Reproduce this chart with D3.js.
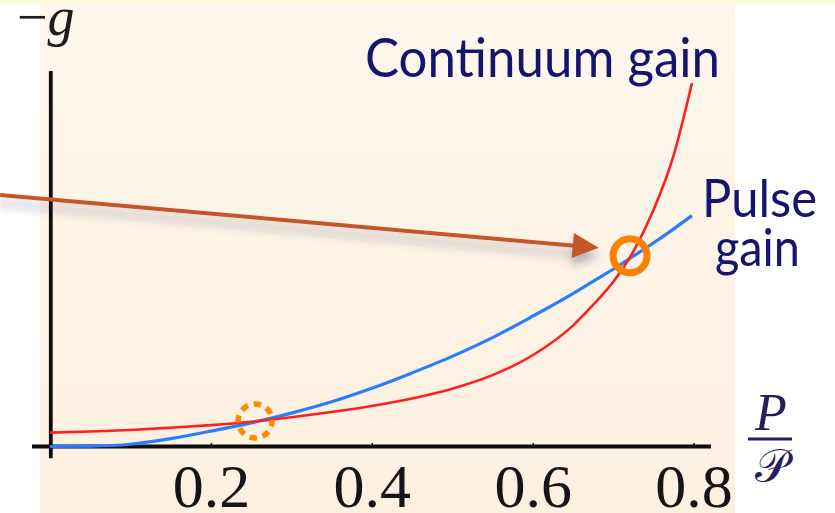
<!DOCTYPE html>
<html>
<head>
<meta charset="utf-8">
<script src="https://cdn.jsdelivr.net/npm/d3@7"></script>
<style>
  html, body { margin: 0; padding: 0; background: #ffffff; }
  svg { display: block; }
</style>
</head>
<body>
<svg id="chart" width="835" height="513"></svg>
<script>
// ---- data ----
const xValues = [0, 0.05, 0.1, 0.15, 0.2, 0.25, 0.3, 0.35, 0.4, 0.45, 0.5, 0.55, 0.6, 0.65, 0.675, 0.7, 0.725, 0.75, 0.775, 0.798];
const continuumGain = [0.037, 0.040, 0.044, 0.050, 0.057, 0.066, 0.078, 0.092, 0.108, 0.128, 0.154, 0.190, 0.243, 0.322, 0.377, 0.438, 0.519, 0.629, 0.774, 0.968];
const pulseGain = [0.000, 0.001, 0.006, 0.021, 0.041, 0.063, 0.089, 0.119, 0.155, 0.196, 0.240, 0.290, 0.347, 0.407, 0.440, 0.472, 0.507, 0.542, 0.579, 0.615];
const tickLabels = [0.2, 0.4, 0.6, 0.8];
// annotations in data units
const stableCrossing = [0.721, 0.508];
const unstableCrossing = [0.255, 0.068];
const arrowFrom = [-0.062, 0.670];
const arrowTo = [0.682, 0.529];

const svg = d3.select("#chart");
const W = 835, H = 513;

const x = d3.scaleLinear().domain([0, 0.8]).range([50, 693.6]);
const y = d3.scaleLinear().domain([0, 1]).range([446.5, 71]);

// ---- backgrounds ----
const defs = svg.append("defs");
const grad = defs.append("linearGradient").attr("id", "panelGrad")
  .attr("x1", 0).attr("y1", 0).attr("x2", 0).attr("y2", 1);
grad.append("stop").attr("offset", "0%").attr("stop-color", "#fdf7ee");
grad.append("stop").attr("offset", "100%").attr("stop-color", "#fdf0df");

const shadow = defs.append("filter").attr("id", "arrowShadow")
  .attr("x", "-10%").attr("y", "-200%").attr("width", "120%").attr("height", "500%");
shadow.append("feDropShadow").attr("dx", 0).attr("dy", 8).attr("stdDeviation", 5)
  .attr("flood-color", "#2a2a5a").attr("flood-opacity", 0.35);

svg.append("rect").attr("x", 0).attr("y", 0).attr("width", W).attr("height", H).attr("fill", "#ffffff");
svg.append("rect").attr("x", 0).attr("y", 0).attr("width", W).attr("height", 3.5).attr("fill", "#fefcdc");
svg.append("rect").attr("x", 40).attr("y", 3.5).attr("width", 695).attr("height", H - 3.5).attr("fill", "url(#panelGrad)");

// ---- axes ----
const xAxis = d3.axisBottom(x).tickValues(tickLabels).tickSizeInner(-3.5).tickSizeOuter(0)
  .tickFormat(d3.format(".1f"));
const gx = svg.append("g").attr("transform", `translate(0,${y(0)})`).call(xAxis);
gx.select(".domain").remove();
gx.selectAll(".tick line").attr("stroke", "#111").attr("stroke-width", 1.5);
gx.selectAll(".tick text")
  .attr("y", 60).attr("dy", 0)
  .attr("fill", "#151515")
  .style("font-family", "'Liberation Serif', 'DejaVu Serif', serif")
  .style("font-size", "62px");

// x axis line (extends a bit beyond the data range)
svg.append("line")
  .attr("x1", x(-0.0224)).attr("x2", x(0.8215))
  .attr("y1", y(0)).attr("y2", y(0))
  .attr("stroke", "#0d0d0d").attr("stroke-width", 4);
// y axis line
svg.append("line")
  .attr("x1", x(0.001)).attr("x2", x(0.001))
  .attr("y1", y(1)).attr("y2", y(-0.031))
  .attr("stroke", "#0d0d0d").attr("stroke-width", 3.8);

// ---- curves ----
const line = d3.line().x(d => x(d[0])).y(d => y(d[1])).curve(d3.curveMonotoneX);

svg.append("path")
  .datum(xValues.map((v, i) => [v, pulseGain[i]]))
  .attr("d", line).attr("fill", "none")
  .attr("stroke", "#2b7dff").attr("stroke-width", 3.2);

svg.append("path")
  .datum(xValues.map((v, i) => [v, continuumGain[i]]))
  .attr("d", line).attr("fill", "none")
  .attr("stroke", "#ff1f1f").attr("stroke-width", 2.6);

// ---- annotations ----
// arrow
const ax0 = x(arrowFrom[0]), ay0 = y(arrowFrom[1]);
const ax1 = x(arrowTo[0]), ay1 = y(arrowTo[1]);
const ang = Math.atan2(ay1 - ay0, ax1 - ax0);
const headLen = 26, headHalf = 12.5;
const bx = ax1 - headLen * Math.cos(ang), by = ay1 - headLen * Math.sin(ang);
const arrowG = svg.append("g").attr("filter", "url(#arrowShadow)");
arrowG.append("line")
  .attr("x1", ax0).attr("y1", ay0).attr("x2", bx + 2 * Math.cos(ang)).attr("y2", by + 2 * Math.sin(ang))
  .attr("stroke", "#c4572c").attr("stroke-width", 4);
arrowG.append("path")
  .attr("d", `M${ax1},${ay1} L${bx - headHalf * Math.sin(-ang) * -1 + 0},${by - headHalf * Math.cos(ang)} L${bx + 0},${by} Z`)
  .attr("fill", "none");
arrowG.append("polygon")
  .attr("points", [
    [ax1, ay1],
    [bx + headHalf * Math.sin(ang), by - headHalf * Math.cos(ang)],
    [bx - headHalf * Math.sin(ang), by + headHalf * Math.cos(ang)]
  ].map(p => p.join(",")).join(" "))
  .attr("fill", "#c4572c");

// circles
svg.append("circle")
  .attr("cx", x(unstableCrossing[0])).attr("cy", y(unstableCrossing[1])).attr("r", 17)
  .attr("fill", "none").attr("stroke", "#ff8a00").attr("stroke-width", 5.5)
  .attr("stroke-dasharray", "7.5 5.85").attr("stroke-dashoffset", 2);
svg.append("circle")
  .attr("cx", x(stableCrossing[0])).attr("cy", y(stableCrossing[1])).attr("r", 17)
  .attr("fill", "none").attr("stroke", "#ff8000").attr("stroke-width", 7);

// ---- text labels ----
const sansFont = "Lato, 'Open Sans', sans-serif";
svg.append("text").attr("x", 365).attr("y", 77)
  .attr("textLength", 355).attr("lengthAdjust", "spacingAndGlyphs")
  .style("font-family", sansFont).style("font-size", "54px").attr("fill", "#15146e")
  .text("Continuum gain");
svg.append("text").attr("x", 702).attr("y", 217)
  .attr("textLength", 115).attr("lengthAdjust", "spacingAndGlyphs")
  .style("font-family", sansFont).style("font-size", "52px").attr("fill", "#15146e")
  .text("Pulse");
svg.append("text").attr("x", 715).attr("y", 266)
  .attr("textLength", 85).attr("lengthAdjust", "spacingAndGlyphs")
  .style("font-family", sansFont).style("font-size", "52px").attr("fill", "#15146e")
  .text("gain");

// y label "−g"
svg.append("text").attr("x", 17).attr("y", 35)
  .style("font-family", "'Liberation Serif', serif").style("font-size", "54px")
  .attr("fill", "#1c1c1c")
  .html('−<tspan font-style="italic">g</tspan>');

// x label P / script P
const purple = "#2b1a5c";
svg.append("text").attr("x", 771).attr("y", 430).attr("text-anchor", "middle")
  .style("font-family", "'Liberation Serif', serif").style("font-style", "italic").style("font-size", "52px")
  .attr("fill", purple).text("P");
svg.append("line").attr("x1", 748).attr("x2", 792).attr("y1", 439).attr("y2", 439)
  .attr("stroke", purple).attr("stroke-width", 3);
svg.append("text").attr("x", 771).attr("y", 482).attr("text-anchor", "middle")
  .style("font-family", "'DejaVu Serif', 'Noto Sans', serif").style("font-size", "46px")
  .attr("fill", purple).text("𝒫");
</script>
</body>
</html>
